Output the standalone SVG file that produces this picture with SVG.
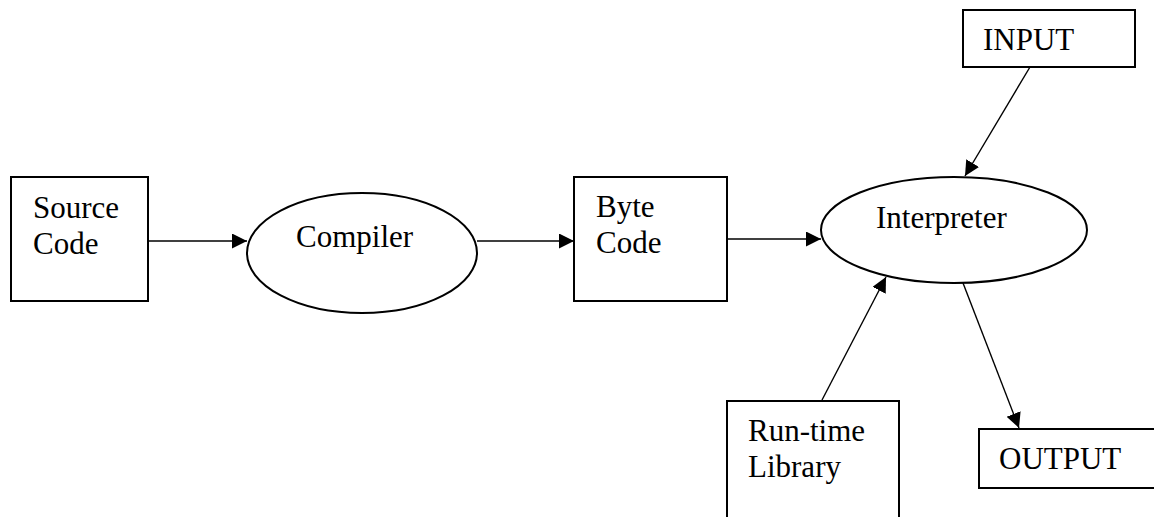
<svg xmlns="http://www.w3.org/2000/svg" width="1154" height="517" viewBox="0 0 1154 517">
<style>
.box{fill:#fff;stroke:#000;stroke-width:2}
.lbl{font-size:31px;fill:#000}
.conn{stroke:#000;stroke-width:1.4;fill:none;marker-end:url(#ah)}
</style>
<defs>
<marker id="ah" markerUnits="userSpaceOnUse" markerWidth="16" markerHeight="16" refX="15" refY="7.5" orient="auto">
<path d="M0,0 L15,7.5 L0,15 z" fill="#000"/>
</marker>
</defs>
<rect width="1154" height="517" fill="#fff"/>
<g font-family="Liberation Serif, DejaVu Serif, serif">
<g id="source">
<rect class="box" x="11" y="177" width="137" height="124"/>
<text class="lbl" x="33" y="218">Source</text>
<text class="lbl" x="33" y="254">Code</text>
</g>
<g id="compiler">
<ellipse class="box" cx="362" cy="253" rx="115" ry="60"/>
<text class="lbl" x="296" y="247">Compiler</text>
</g>
<g id="bytecode">
<rect class="box" x="574" y="177" width="153" height="124"/>
<text class="lbl" x="596" y="217">Byte</text>
<text class="lbl" x="596" y="253">Code</text>
</g>
<g id="interpreter">
<ellipse class="box" cx="954" cy="230" rx="133" ry="53"/>
<text class="lbl" x="876" y="228">Interpreter</text>
</g>
<g id="input">
<rect class="box" x="963" y="10" width="172" height="57"/>
<text class="lbl" x="983" y="50">INPUT</text>
</g>
<g id="runtime">
<rect class="box" x="727" y="401" width="172" height="130"/>
<text class="lbl" x="748" y="441">Run-time</text>
<text class="lbl" x="748" y="477">Library</text>
</g>
<g id="output">
<rect class="box" x="979" y="429" width="190" height="59"/>
<text class="lbl" x="999" y="469">OUTPUT</text>
</g>
</g>
<g id="connectors">
<line class="conn" x1="148" y1="241" x2="247" y2="241"/>
<line class="conn" x1="477" y1="241" x2="574" y2="241"/>
<line class="conn" x1="727" y1="239" x2="821" y2="239"/>
<line class="conn" x1="1030" y1="67" x2="965" y2="176"/>
<line class="conn" x1="822" y1="400" x2="886" y2="277"/>
<line class="conn" x1="963" y1="283" x2="1019" y2="428"/>
</g>
</svg>
